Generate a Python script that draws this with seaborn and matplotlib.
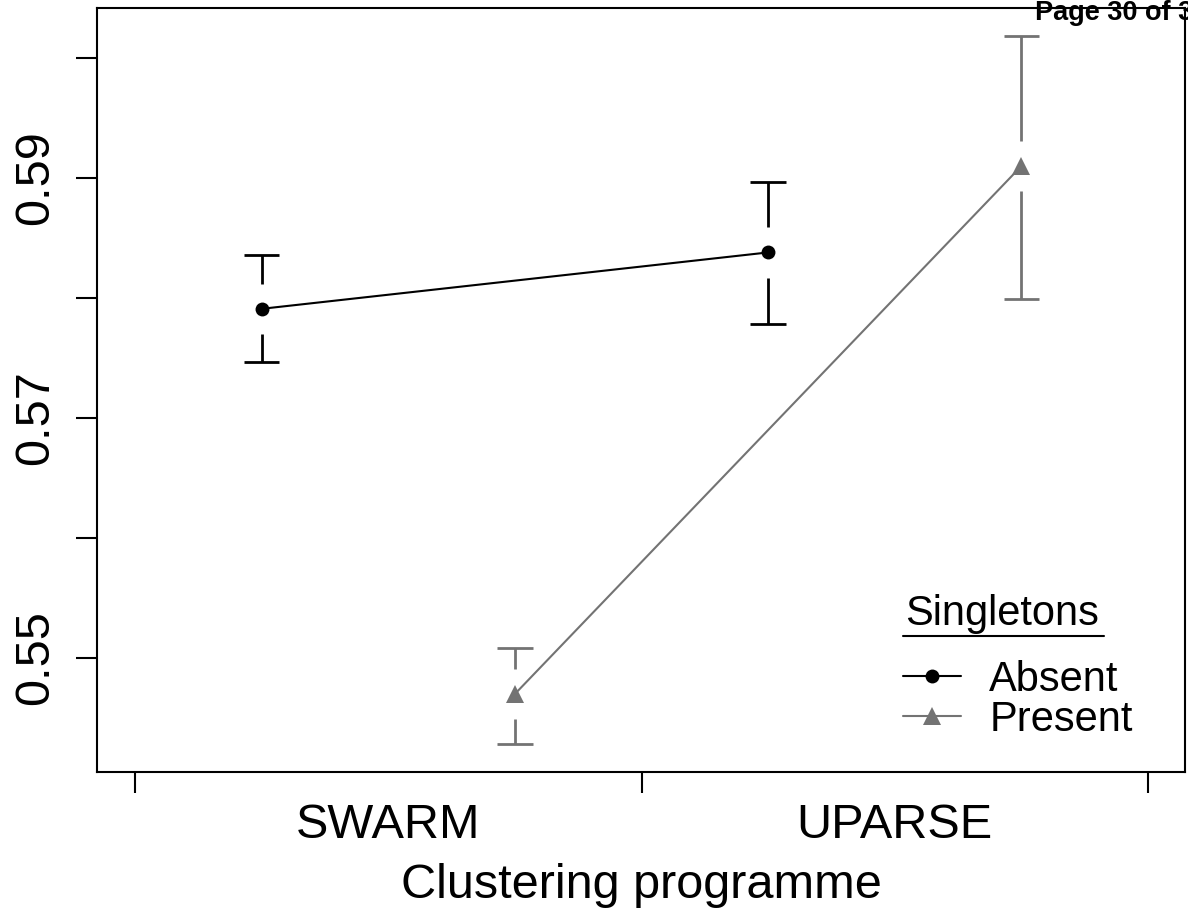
import matplotlib
matplotlib.use("Agg")
import matplotlib.pyplot as plt
from matplotlib.lines import Line2D
import numpy as np
import pandas as pd
import seaborn as sns

# Data
programmes = ["SWARM", "UPARSE"]
singletons = ["Absent", "Present"]
absent_mean = [0.5791, 0.5838]
absent_lo = [0.5747, 0.5778]
absent_hi = [0.5836, 0.5897]
present_mean = [0.5470, 0.5910]
present_lo = [0.5428, 0.5799]
present_hi = [0.5508, 0.6018]

sns.set_style("white")
plt.rcParams['font.family'] = ['Liberation Sans', 'DejaVu Sans']
plt.rcParams['text.color'] = 'black'
plt.rcParams['xtick.color'] = 'black'
plt.rcParams['ytick.color'] = 'black'
plt.rcParams['axes.labelcolor'] = 'black'

colours = {"Absent": "black", "Present": "#737373"}
markers = {"Absent": "o", "Present": "^"}
offsets = {"Absent": -0.25, "Present": 0.25}

rows = []
for grp, means, los, his in [("Absent", absent_mean, absent_lo, absent_hi),
                             ("Present", present_mean, present_lo, present_hi)]:
    for i, prog in enumerate(programmes):
        rows.append({"programme": prog, "Singletons": grp, "pos": i + 1 + offsets[grp],
                     "value": means[i], "lo": los[i], "hi": his[i]})
df = pd.DataFrame(rows)

fig = plt.figure(figsize=(11.88, 9.17), dpi=100)
ax = fig.add_axes([97 / 1188, 1 - 772 / 917, (1185 - 97) / 1188, (772 - 8) / 917])

sns.lineplot(data=df, x="pos", y="value", hue="Singletons", style="Singletons",
             markers=markers, dashes=False, palette=colours, ax=ax, legend=False,
             linewidth=1.5, markersize=10, markeredgewidth=0)
# make the triangle a bit bigger
for ln in ax.get_lines():
    if ln.get_marker() == "^":
        ln.set_markersize(13)

# error bars with a gap around the point
gap = 0.0021
cap = 0.035
for _, r in df.iterrows():
    c = colours[r["Singletons"]]
    ax.vlines(r["pos"], r["lo"], r["value"] - gap, color=c, lw=2)
    ax.vlines(r["pos"], r["value"] + gap, r["hi"], color=c, lw=2)
    ax.hlines([r["lo"], r["hi"]], r["pos"] - cap, r["pos"] + cap, color=c, lw=2)

ax.set_xlim(0.425, 2.573)
ax.set_ylim(0.5405, 0.60417)

# x axis: boundary ticks, labels at group centres
ax.set_xticks([1, 2])
ax.set_xticklabels(programmes, fontsize=35)
ax.set_xticks([0.5, 1.5, 2.5], minor=True)
ax.tick_params(axis="x", which="major", length=0, pad=22)
ax.tick_params(axis="x", which="minor", length=15, width=1.5, color="black", direction="out")
ax.xaxis.set_tick_params(which="minor", bottom=True)

yt = [0.55, 0.56, 0.57, 0.58, 0.59, 0.60]
ax.set_yticks(yt)
ax.set_yticklabels(["0.55", "", "0.57", "", "0.59", ""], fontsize=35, rotation=90, va="center")
ax.tick_params(axis="y", length=15, width=1.5, color="black", direction="out", pad=13, left=True)

ax.set_xlabel("Clustering programme", fontsize=35, labelpad=11)
ax.set_ylabel("")

for s in ax.spines.values():
    s.set_color("black")
    s.set_linewidth(1.5)

handles = [Line2D([], [], color=colours[g], marker=markers[g], lw=1.5,
                  markersize=10 if g == "Absent" else 13, markeredgewidth=0) for g in singletons]
leg = ax.legend(handles, singletons, fontsize=30, frameon=False, loc="upper left",
                bbox_to_anchor=((903 - 97) / 1088, (772 - 660) / 764),
                handlelength=1.4, handletextpad=0.67, labelspacing=0.0, borderpad=0,
                borderaxespad=0)

# legend title with underline
fig.text(905 / 1188, 1 - 625 / 917, "Singletons", fontsize=30, ha="left", va="baseline")
fig.add_artist(Line2D([903 / 1188, 1104 / 1188], [1 - 636 / 917, 1 - 636 / 917],
                      color="black", lw=1.5))

fig.text(1035 / 1188, 1 - 20 / 917, "Page 30 of 3", fontsize=19.5, fontweight="bold",
         ha="left", va="baseline")

fig.savefig("out.png", dpi=100)
